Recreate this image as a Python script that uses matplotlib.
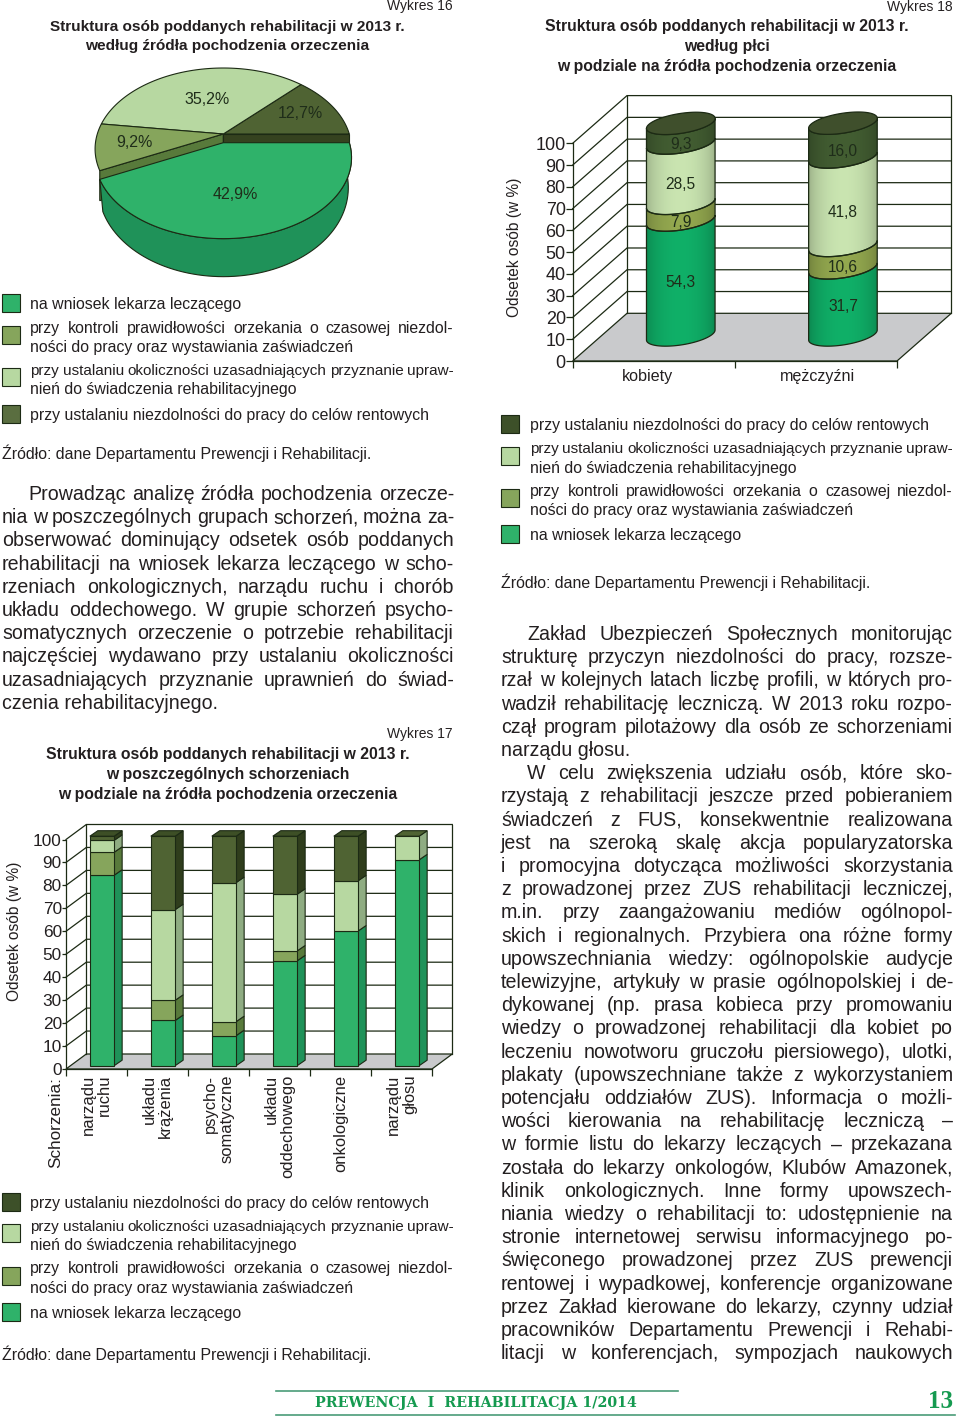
import numpy as np
import matplotlib
matplotlib.use('Agg')
import matplotlib.pyplot as plt
from matplotlib.colors import to_rgb
from matplotlib.patches import Polygon

plt.rcParams['font.family'] = ['Liberation Sans', 'DejaVu Sans']

W, H = 960, 1420

# colours, same order everywhere: lekarz, kontrola, uprawnienia, rentowe
TOP_COLORS = ['#2fb26a', '#86a55c', '#b7d8a1', '#4f6333']
SIDE_COLORS = ['#1f9259', '#587a3b', '#8fac82', '#2f3d1c']
CYL_COLORS = ['#0fa964', '#8ea24c', '#c2dcaa', '#405a30']
EDGE = '#1c2a14'
TEXT = '#231f20'

# wykres 16
pie_values = [42.9, 9.2, 35.2, 12.7]

# wykres 17
disease_labels = ['narządu\nruchu', 'układu\nkrążenia', 'psycho-\nsomatyczne', 'układu\noddechowego',
                  'onkologiczne', 'narządu\ngłosu']
lekarz = [83.0, 19.7, 13.1, 45.7, 58.7, 89.7]
kontrola = [10.0, 8.8, 6.1, 4.3, 0.0, 0.0]
uprawnienia = [5.2, 39.5, 60.6, 24.7, 21.9, 10.3]
rentowe = [1.8, 32.0, 20.2, 25.3, 19.4, 0.0]

# wykres 18
sex_labels = ['kobiety', 'mężczyźni']
sex_lekarz = [54.3, 31.7]
sex_kontrola = [7.9, 10.6]
sex_uprawnienia = [28.5, 41.8]
sex_rentowe = [9.3, 16.0]

y_ticks = list(range(0, 101, 10))

ZRODLO = 'Źródło: dane Departamentu Prewencji i Rehabilitacji.'
L_RENT = ['przy ustalaniu niezdolności do pracy do celów rentowych']
L_UPR = ['przy ustalaniu okoliczności uzasadniających przyznanie upraw-', 'nień do świadczenia rehabilitacyjnego']
L_KON = ['przy kontroli prawidłowości orzekania o czasowej niezdol-', 'ności do pracy oraz wystawiania zaświadczeń']
L_LEK = ['na wniosek lekarza leczącego']

left_par = [
    'Prowadząc analizę źródła pochodzenia orzecze-',
    'nia w poszczególnych grupach schorzeń, można za-',
    'obserwować dominujący odsetek osób poddanych',
    'rehabilitacji na wniosek lekarza leczącego w scho-',
    'rzeniach onkologicznych, narządu ruchu i chorób',
    'układu oddechowego. W grupie schorzeń psycho-',
    'somatycznych orzeczenie o potrzebie rehabilitacji',
    'najczęściej wydawano przy ustalaniu okoliczności',
    'uzasadniających przyznanie uprawnień do świad-',
    'czenia rehabilitacyjnego.',
]

right_par = [
    'Zakład Ubezpieczeń Społecznych monitorując',
    'strukturę przyczyn niezdolności do pracy, rozsze-',
    'rzał w kolejnych latach liczbę profili, w których pro-',
    'wadził rehabilitację leczniczą. W 2013 roku rozpo-',
    'czął program pilotażowy dla osób ze schorzeniami',
    'narządu głosu.',
    'W celu zwiększenia udziału osób, które sko-',
    'rzystają z rehabilitacji jeszcze przed pobieraniem',
    'świadczeń z FUS, konsekwentnie realizowana',
    'jest na szeroką skalę akcja popularyzatorska',
    'i promocyjna dotycząca możliwości skorzystania',
    'z prowadzonej przez ZUS rehabilitacji leczniczej,',
    'm.in. przy zaangażowaniu mediów ogólnopol-',
    'skich i regionalnych. Przybiera ona różne formy',
    'upowszechniania wiedzy: ogólnopolskie audycje',
    'telewizyjne, artykuły w prasie ogólnopolskiej i de-',
    'dykowanej (np. prasa kobieca przy promowaniu',
    'wiedzy o prowadzonej rehabilitacji dla kobiet po',
    'leczeniu nowotworu gruczołu piersiowego), ulotki,',
    'plakaty (upowszechniane także z wykorzystaniem',
    'potencjału oddziałów ZUS). Informacja o możli-',
    'wości kierowania na rehabilitację leczniczą –',
    'w formie listu do lekarzy leczących – przekazana',
    'została do lekarzy onkologów, Klubów Amazonek,',
    'klinik onkologicznych. Inne formy upowszech-',
    'niania wiedzy o rehabilitacji to: udostępnienie na',
    'stronie internetowej serwisu informacyjnego po-',
    'święconego prowadzonej przez ZUS prewencji',
    'rentowej i wypadkowej, konferencje organizowane',
    'przez Zakład kierowane do lekarzy, czynny udział',
    'pracowników Departamentu Prewencji i Rehabi-',
    'litacji w konferencjach, sympozjach naukowych',
]

fig = plt.figure(figsize=(W / 100, H / 100), dpi=100)
page = fig.add_axes([0, 0, 1, 1])
page.set_xlim(0, W)
page.set_ylim(H, 0)
page.axis('off')
renderer = fig.canvas.get_renderer()


def put_line(y, line, x0, x1=None, size=11.4):
    """Line of text with centre at y px. With x1 the words are justified up to x1."""
    base = y + 0.36 * size * 100 / 72
    if x1 is None:
        page.text(x0, base, line, fontsize=size, color=TEXT, va='baseline')
        return
    words = line.split(' ')
    items = [page.text(x0, base, w, fontsize=size, color=TEXT, va='baseline') for w in words]
    widths = [t.get_window_extent(renderer).width for t in items]
    min_gap = 0.2 * size * 100 / 72
    total = x1 - x0
    if sum(widths) + min_gap * (len(words) - 1) > total:
        # line too long for this font, make it a bit smaller
        factor = (total - min_gap * (len(words) - 1)) / sum(widths)
        for t in items:
            t.set_fontsize(size * factor)
        widths = [t.get_window_extent(renderer).width for t in items]
    gap = (total - sum(widths)) / max(len(words) - 1, 1)
    x = x0
    for t, w in zip(items, widths):
        t.set_x(x)
        x += w + gap


def put_legend(entries, y_lines, swatch_x, text_x, text_end):
    # entries: (colour, lines), y_lines are the centres of all lines in order
    i = 0
    for color, lines in entries:
        ys = y_lines[i:i + len(lines)]
        ym = sum(ys) / len(ys) - (len(lines) - 1) * 1.5
        page.add_patch(Polygon([(swatch_x, ym - 9), (swatch_x + 18, ym - 9), (swatch_x + 18, ym + 9),
                                (swatch_x, ym + 9)], closed=True, fc=color, ec=EDGE, lw=0.8))
        for j, line in enumerate(lines):
            if j == 0 and len(lines) > 1:
                put_line(ys[j], line, text_x, text_end)
            else:
                put_line(ys[j], line, text_x)
        i += len(lines)


def put_title(lines, ys, xc, size=11.3):
    for line, y in zip(lines, ys):
        page.text(xc, y + 1, line, fontsize=size, fontweight='bold', color=TEXT, ha='center', va='center')


def put_wykres(label, x1, y):
    page.text(x1, y, label, fontsize=10, color=TEXT, ha='right', va='center')


# ---- wykres 16, tort w perspektywie
CX, CY = 223.3, 134.0
PIE_A, PIE_B, PIE_P = 126.0, 78.2, 0.185


def project(angle, r=1.0, dy=0.0):
    u = r * np.cos(np.radians(angle))
    v = r * np.sin(np.radians(angle))
    w = 1 - PIE_P * v
    return CX + PIE_A * u / w, CY + PIE_B * v / w + dy


def rim(a0, a1, dy=0.0):
    angles = np.linspace(a0, a1, 80)
    xs, ys = project(angles, dy=dy)
    return np.column_stack([xs, ys])


def wedge(a0, a1, dy=0.0):
    apex = np.array([[CX, CY + dy]])
    return np.vstack([apex, rim(a0, a1, dy)])


angles = np.cumsum([0] + pie_values) * 3.6

# walls of the upper part visible above the pulled out slice
for ang, color, depth in [(angles[1], SIDE_COLORS[1], 30), (angles[4], '#35421f', 30)]:
    x, y = project(ang)
    page.add_patch(Polygon([(CX, CY), (x, y), (x, y + depth), (CX, CY + depth)], closed=True,
                           fc=color, ec=EDGE, lw=0.8))

for i in [3, 2, 1]:
    page.add_patch(Polygon(wedge(angles[i], angles[i + 1]), closed=True, fc=TOP_COLORS[i], ec=EDGE, lw=0.8))

# front slice is pulled down
PULL = 8.7
top = rim(angles[0], angles[1], PULL)
v_part = np.sin(np.radians(np.linspace(angles[0], angles[1], 80)))
bottom = np.column_stack([CX + (top[:, 0] - CX) * 0.975, top[:, 1] + 28 + 10 * v_part])
page.add_patch(Polygon(np.vstack([top, bottom[::-1]]), closed=True, fc=SIDE_COLORS[0], ec=EDGE, lw=0.8))
page.add_patch(Polygon(wedge(angles[0], angles[1], PULL), closed=True, fc=TOP_COLORS[0], ec=EDGE, lw=0.8))

for i, val in enumerate(pie_values):
    mid = (angles[i] + angles[i + 1]) / 2
    x, y = project(mid, r=0.6 if i == 0 else (0.55 if i == 2 else 0.7), dy=PULL * (i == 0))
    page.text(x - 7 * (i == 0) + 4 * (i == 2), y + 3 * (i == 2), f'{val:.1f}%'.replace('.', ','), fontsize=11.5,
              color='#1f2d1a', ha='center', va='center')

put_wykres('Wykres 16', 453, 6)
put_title(['Struktura osób poddanych rehabilitacji w 2013 r.', 'według źródła pochodzenia orzeczenia'],
          [26, 45], 227, size=11.05)
put_legend([(TOP_COLORS[0], L_LEK), (TOP_COLORS[1], L_KON), (TOP_COLORS[2], L_UPR), ('#5a6e40', L_RENT)],
           [303, 327, 346, 369, 388, 414], 2, 30, 454)
put_line(453, ZRODLO, 2)

BODY = 14.1
for i, line in enumerate(left_par):
    y = 493 + i * 23.2
    if i == 0:
        put_line(y, line, 28, 454, size=BODY)
    elif i == len(left_par) - 1:
        put_line(y, line, 2, size=BODY)
    else:
        put_line(y, line, 2, 454, size=BODY)


def make_axes(x0, x1, y_top, y_bottom, n, tick_size, tick_len):
    ax = fig.add_axes([x0 / W, 1 - y_bottom / H, (x1 - x0) / W, (y_bottom - y_top) / H])
    ax.patch.set_visible(False)
    ax.set_xlim(0, n)
    ax.set_ylim(0, 100)
    for s in ['top', 'right']:
        ax.spines[s].set_visible(False)
    for s in ['left', 'bottom']:
        ax.spines[s].set_color(EDGE)
        ax.spines[s].set_linewidth(0.9)
    ax.set_yticks(y_ticks)
    ax.set_xticks(np.arange(n + 1), minor=True)
    ax.tick_params(axis='y', length=tick_len, width=0.9, color=EDGE, labelsize=tick_size, labelcolor=TEXT, pad=0)
    ax.tick_params(axis='x', which='minor', length=5, width=0.9, color=EDGE)
    ax.tick_params(axis='x', which='major', length=0)
    return ax


def draw_walls(ax, n, dx, dy):
    # floor, side and back wall of the fake 3d box, dx dy in data units
    ax.add_patch(Polygon([(0, 0), (dx, dy), (n + dx, dy), (n, 0)], closed=True, fc='#c9cacc', ec=EDGE,
                         lw=0.9, clip_on=False, zorder=1))
    for t in y_ticks:
        if t > 0:
            ax.plot([0, dx, n + dx], [t, t + dy, t + dy], color=EDGE, lw=0.9, clip_on=False, zorder=1,
                    solid_joinstyle='miter')
    ax.plot([dx, dx], [dy, 100 + dy], color=EDGE, lw=0.9, clip_on=False, zorder=1)
    ax.plot([n + dx, n + dx], [dy, 100 + dy], color=EDGE, lw=0.9, clip_on=False, zorder=1)


# ---- wykres 17, slupki
X0, X1, Y_TOP, Y_BOT = 66.0, 432.0, 839.5, 1069.0
ax17 = make_axes(X0, X1, Y_TOP, Y_BOT, 6, 12.4, 3)
sx = 6 / (X1 - X0)
sy = 100 / (Y_BOT - Y_TOP)
draw_walls(ax17, 6, 20.3 * sx, 15 * sy)

series = [lekarz, kontrola, uprawnienia, rentowe]
bar_w = 24.3 * sx
side_dx, side_dy = 8 * sx, 5.5 * sy
x_shift, y_shift = 5.5 * sx, 3.3 * sy
for i in range(6):
    x_l = i + 0.5 + x_shift - bar_w / 2
    base = y_shift
    for k, vals in enumerate(series):
        v = vals[i]
        if v <= 0:
            continue
        top_y = base + v
        ax17.add_patch(Polygon([(x_l + bar_w, base), (x_l + bar_w + side_dx, base + side_dy),
                                (x_l + bar_w + side_dx, top_y + side_dy), (x_l + bar_w, top_y)], closed=True,
                               fc=SIDE_COLORS[k], ec=EDGE, lw=0.8, clip_on=False, zorder=3))
        ax17.bar(x_l, v, width=bar_w, bottom=base, align='edge', color=TOP_COLORS[k], edgecolor=EDGE, lw=0.8,
                 clip_on=False, zorder=3)
        base = top_y
    last = max(k for k in range(4) if series[k][i] > 0)
    ax17.add_patch(Polygon([(x_l, base), (x_l + side_dx, base + side_dy), (x_l + bar_w + side_dx, base + side_dy),
                            (x_l + bar_w, base)], closed=True, fc='#3d4f26' if last == 3 else '#4f6333',
                           ec=EDGE, lw=0.8, clip_on=False, zorder=3))
ax17.set_xticks(np.arange(6) + 0.5)
ax17.set_xticklabels(disease_labels, rotation=90, fontsize=11.9, color=TEXT, va='top', ha='center',
                     multialignment='right', linespacing=1.1)
ax17.tick_params(axis='x', which='major', pad=4)
page.text(56, 1077, 'Schorzenia:', rotation=90, fontsize=12.3, color=TEXT, ha='center', va='top')
page.text(15, 931, 'Odsetek osób (w %)', rotation=90, fontsize=11.2, color=TEXT, ha='center', va='center')

put_wykres('Wykres 17', 453, 734)
put_title(['Struktura osób poddanych rehabilitacji w 2013 r.', 'w poszczególnych schorzeniach',
           'w podziale na źródła pochodzenia orzeczenia'], [754, 773, 793], 228)
put_legend([('#3d5029', L_RENT), (TOP_COLORS[2], L_UPR), (TOP_COLORS[1], L_KON), (TOP_COLORS[0], L_LEK)],
           [1202, 1225, 1244, 1267, 1287, 1312], 2, 30, 454)
put_line(1354, ZRODLO, 2)

# ---- wykres 18, walce
X0, X1, Y_TOP, Y_BOT = 572.7, 897.0, 143.3, 361.0
ax18 = make_axes(X0, X1, Y_TOP, Y_BOT, 2, 13, 5)
sx = 2 / (X1 - X0)
sy = 100 / (Y_BOT - Y_TOP)
draw_walls(ax18, 2, 54.3 * sx, 47.7 * sy)

CYL_SCALE = 0.972
cyl_a = 34.3 * sx
cyl_tilt = 5.0 * sy
cyl_b = 10.0 * sy
t = np.linspace(0, np.pi, 60)


def front_arc(xc, y):
    # from the left end to the right end, along the front of the ellipse
    return np.column_stack([xc - cyl_a * np.cos(t), y - cyl_tilt * np.cos(t) - cyl_b * np.sin(t)])


def back_arc(xc, y):
    return np.column_stack([xc + cyl_a * np.cos(t), y + cyl_tilt * np.cos(t) + cyl_b * np.sin(t)])


def shaded(color):
    base = np.array(to_rgb(color))
    xs = np.linspace(0, 1, 64)
    f = 0.80 + 0.24 * np.sin(np.pi * xs) ** 0.6
    return np.clip(base[None, None, :] * f[None, :, None], 0, 1)


sex_series = [sex_lekarz, sex_kontrola, sex_uprawnienia, sex_rentowe]
for i in range(2):
    xc = i + 0.5 + 27.0 * sx
    y_now = 26.0 * sy
    for k, vals in enumerate(sex_series):
        h = vals[i] * CYL_SCALE
        pts = np.vstack([front_arc(xc, y_now), front_arc(xc, y_now + h)[::-1]])
        patch = Polygon(pts, closed=True, fc='none', ec=EDGE, lw=0.9, clip_on=False, zorder=4)
        ax18.add_patch(patch)
        im = ax18.imshow(shaded(CYL_COLORS[k]), extent=(xc - cyl_a, xc + cyl_a, y_now - 15 * sy, y_now + h + 15 * sy),
                         aspect='auto', zorder=3, interpolation='bilinear')
        im.set_clip_box(fig.bbox)
        im.set_clip_path(patch)
        shift = 5 if k == 0 else 11
        ax18.text(xc, y_now + h / 2 - shift * sy, f'{vals[i]:.1f}'.replace('.', ','), fontsize=11.2, color='#1f2d1a',
                  ha='center', va='center', zorder=5)
        y_now += h
    ellipse = np.vstack([front_arc(xc, y_now), back_arc(xc, y_now)])
    ax18.add_patch(Polygon(ellipse, closed=True, fc='#3f4f2c', ec=EDGE, lw=0.9, clip_on=False, zorder=4))

ax18.set_xlim(0, 2)
ax18.set_ylim(0, 100)
ax18.set_xticks([0.46, 1.51])
ax18.set_xticklabels(sex_labels, fontsize=11.6, color=TEXT)
ax18.tick_params(axis='x', which='major', pad=6)
page.text(515, 247, 'Odsetek osób (w %)', rotation=90, fontsize=11.2, color=TEXT, ha='center', va='center')

put_wykres('Wykres 18', 953, 7)
put_title(['Struktura osób poddanych rehabilitacji w 2013 r.', 'według płci',
           'w podziale na źródła pochodzenia orzeczenia'], [26, 45, 65], 727)
put_legend([('#3d5029', L_RENT), (TOP_COLORS[2], L_UPR), (TOP_COLORS[1], L_KON), (TOP_COLORS[0], L_LEK)],
           [424, 447, 467, 490, 509, 534], 501, 530, 953)
put_line(582, ZRODLO, 501)

for i, line in enumerate(right_par):
    y = 633 + i * 23.2
    if i in (0, 6):
        put_line(y, line, 527, 953, size=BODY)
    elif i == 5:
        put_line(y, line, 501, size=BODY)
    else:
        put_line(y, line, 501, 953, size=BODY)

# stopka
page.plot([276, 678], [1391, 1391], color='#4a9c78', lw=1.2)
page.plot([276, 955], [1415, 1415], color='#4a9c78', lw=1.2)
page.text(315, 1403, 'PREWENCJA  I  REHABILITACJA 1/2014', fontsize=10.3, fontweight='bold', color='#159a50',
          family='DejaVu Serif', va='center')
page.text(953, 1401, '13', fontsize=18, fontweight='bold', color='#159a50', family='Liberation Serif',
          ha='right', va='center')

fig.savefig('out.png', dpi=100)
